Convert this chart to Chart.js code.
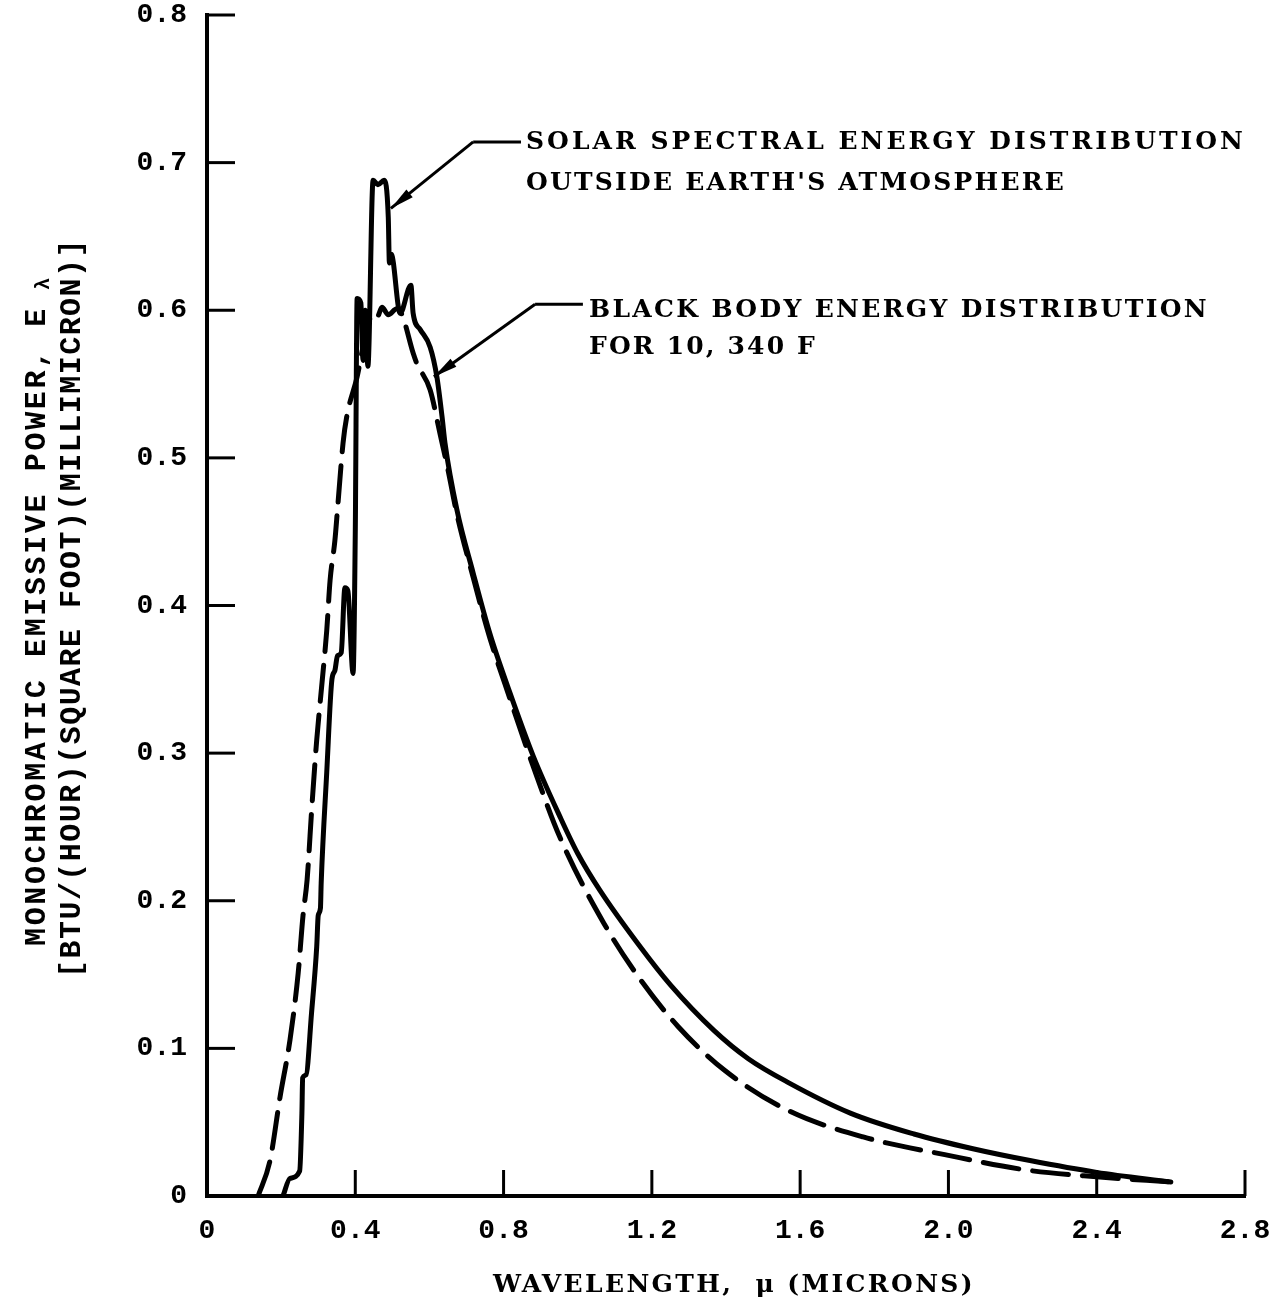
<!DOCTYPE html>
<html>
<head>
<meta charset="utf-8">
<title>Solar spectral energy distribution</title>
<script src="https://cdn.jsdelivr.net/npm/chart.js@4.4.0/dist/chart.umd.min.js"></script>
<style>
  html, body { margin: 0; padding: 0; background: #fff; }
  canvas { display: block; }
</style>
</head>
<body>
<canvas id="myChart" width="1279" height="1309"></canvas>
<script>
// solar spectrum outside the atmosphere (solid line)
const solarX = [0.205, 0.224, 0.250, 0.256, 0.258, 0.267, 0.282, 0.296, 0.300, 0.306, 0.308, 0.323, 0.337, 0.345,
  0.352, 0.362, 0.372, 0.380, 0.394, 0.400, 0.405, 0.415, 0.421, 0.427, 0.434, 0.448, 0.461, 0.478, 0.489, 0.492,
  0.497, 0.521, 0.550, 0.556, 0.575, 0.602, 0.620, 0.634, 0.642, 0.674, 0.718, 0.763, 0.817, 0.880, 0.952, 1.000,
  1.060, 1.165, 1.250, 1.368, 1.460, 1.567, 1.737, 1.907, 2.066, 2.220, 2.400, 2.600];
const solarY = [0, 0.012, 0.017, 0.056, 0.080, 0.082, 0.124, 0.169, 0.190, 0.195, 0.212, 0.287, 0.350, 0.356,
  0.366, 0.368, 0.412, 0.410, 0.354, 0.450, 0.608, 0.605, 0.566, 0.600, 0.562, 0.688, 0.685, 0.688, 0.663, 0.632,
  0.638, 0.598, 0.617, 0.598, 0.587, 0.575, 0.555, 0.528, 0.510, 0.465, 0.422, 0.381, 0.341, 0.298, 0.257, 0.232,
  0.207, 0.170, 0.143, 0.112, 0.093, 0.077, 0.056, 0.042, 0.032, 0.024, 0.016, 0.0095];

// black body at 10,340 F (dashed line)
const bodyX = [0.138, 0.170, 0.197, 0.224, 0.246, 0.259, 0.270, 0.283, 0.296, 0.310, 0.323, 0.332, 0.345, 0.352,
  0.367, 0.377, 0.405, 0.425, 0.448, 0.460, 0.472, 0.489, 0.512, 0.526, 0.556, 0.566, 0.602, 0.628, 0.650, 0.674,
  0.718, 0.763, 0.817, 0.880, 0.952, 1.070, 1.165, 1.270, 1.397, 1.567, 1.770, 1.990, 2.210, 2.400, 2.600];
const bodyY = [0, 0.024, 0.067, 0.106, 0.151, 0.190, 0.214, 0.264, 0.309, 0.347, 0.383, 0.417, 0.444, 0.465,
  0.510, 0.528, 0.555, 0.580, 0.598, 0.596, 0.602, 0.597, 0.601, 0.597, 0.571, 0.564, 0.546, 0.517, 0.492, 0.462,
  0.419, 0.378, 0.337, 0.291, 0.243, 0.185, 0.148, 0.115, 0.085, 0.058, 0.040, 0.028, 0.0176, 0.013, 0.0095];

const xTickLabels = ["0", "0.4", "0.8", "1.2", "1.6", "2.0", "2.4", "2.8"];
const yTickLabels = ["0", "0.1", "0.2", "0.3", "0.4", "0.5", "0.6", "0.7", "0.8"];

const xTitle = "WAVELENGTH,  \u03BC (MICRONS)";
const yTitleLine1 = "MONOCHROMATIC EMISSIVE POWER, E";
const yTitleSub = "\u03BB";
const yTitleLine2 = "[BTU/(HOUR)(SQUARE FOOT)(MILLIMICRON)]";

const solarNote = ["SOLAR SPECTRAL ENERGY DISTRIBUTION", "OUTSIDE EARTH'S ATMOSPHERE"];
const bodyNote = ["BLACK BODY ENERGY DISTRIBUTION", "FOR 10, 340 F"];

const serifFont = "bold 25px 'DejaVu Serif', serif";

function toPoints(xs, ys) {
  return xs.map((x, i) => ({ x: x, y: ys[i] }));
}

// draw text stretched to a given width with letter spacing
function fitText(ctx, text, x, y, width) {
  ctx.letterSpacing = "0px";
  const w = ctx.measureText(text).width;
  ctx.letterSpacing = ((width - w) / text.length) + "px";
  ctx.fillText(text, x, y);
  ctx.letterSpacing = "0px";
}

function arrow(ctx, x0, y0, x1, y1) {
  ctx.beginPath();
  ctx.moveTo(x0, y0);
  ctx.lineTo(x1, y1);
  ctx.stroke();
  const a = Math.atan2(y1 - y0, x1 - x0);
  const len = 24, half = 5;
  ctx.beginPath();
  ctx.moveTo(x1, y1);
  ctx.lineTo(x1 - len * Math.cos(a) + half * Math.sin(a), y1 - len * Math.sin(a) - half * Math.cos(a));
  ctx.lineTo(x1 - len * Math.cos(a) - half * Math.sin(a), y1 - len * Math.sin(a) + half * Math.cos(a));
  ctx.closePath();
  ctx.fill();
}

const decor = {
  id: "decor",
  afterDraw(chart) {
    const ctx = chart.ctx;
    const xs = chart.scales.x, ys = chart.scales.y;
    ctx.save();
    ctx.strokeStyle = "#000";
    ctx.fillStyle = "#000";

    // tick marks pointing into the plot
    ctx.lineWidth = 3;
    xs.ticks.forEach(t => {
      if (t.value === 0) return;
      const px = xs.getPixelForValue(t.value);
      ctx.beginPath();
      ctx.moveTo(px, ys.bottom);
      ctx.lineTo(px, ys.bottom - 26);
      ctx.stroke();
    });
    ys.ticks.forEach(t => {
      if (t.value === 0) return;
      const py = ys.getPixelForValue(t.value);
      ctx.beginPath();
      ctx.moveTo(xs.left, py);
      ctx.lineTo(xs.left + 28, py);
      ctx.stroke();
    });

    // axis titles
    ctx.textBaseline = "middle";
    ctx.textAlign = "left";
    ctx.font = serifFont;
    fitText(ctx, xTitle, 493, 1285, 482);

    ctx.font = "bold 30px 'Liberation Mono', monospace";
    ctx.save();
    ctx.translate(37, 0);
    ctx.rotate(-Math.PI / 2);
    fitText(ctx, yTitleLine1, -946, 0, 640);
    ctx.font = "bold 20px 'Liberation Mono', monospace";
    ctx.fillText(yTitleSub, -290, 7);
    ctx.restore();
    ctx.font = "bold 30px 'Liberation Mono', monospace";
    ctx.save();
    ctx.translate(72, 0);
    ctx.rotate(-Math.PI / 2);
    fitText(ctx, yTitleLine2, -978, 0, 740);
    ctx.restore();

    // annotations with leaders
    ctx.font = serifFont;
    fitText(ctx, solarNote[0], 526, 142, 720);
    fitText(ctx, solarNote[1], 526, 183, 540);
    fitText(ctx, bodyNote[0], 589, 310, 620);
    fitText(ctx, bodyNote[1], 589, 347, 228);

    ctx.lineWidth = 3;
    let ex = xs.getPixelForValue(0.718), ey = ys.getPixelForValue(0.714);
    ctx.beginPath();
    ctx.moveTo(xs.getPixelForValue(0.847), ey);
    ctx.lineTo(ex, ey);
    ctx.stroke();
    arrow(ctx, ex, ey, xs.getPixelForValue(0.496), ys.getPixelForValue(0.669));

    ex = xs.getPixelForValue(0.885); ey = ys.getPixelForValue(0.604);
    ctx.beginPath();
    ctx.moveTo(xs.getPixelForValue(1.014), ey);
    ctx.lineTo(ex, ey);
    ctx.stroke();
    arrow(ctx, ex, ey, xs.getPixelForValue(0.612), ys.getPixelForValue(0.555));

    ctx.restore();
  }
};

new Chart(document.getElementById("myChart"), {
  type: "scatter",
  data: {
    datasets: [
      {
        label: "Solar",
        data: toPoints(solarX, solarY),
        showLine: true,
        borderColor: "#000",
        borderWidth: 5,
        pointRadius: 0,
        cubicInterpolationMode: "monotone",
        borderJoinStyle: "round",
        borderCapStyle: "round",
      },
      {
        label: "Black body",
        data: toPoints(bodyX, bodyY),
        showLine: true,
        borderColor: "#000",
        borderWidth: 5,
        borderDash: [36, 14],
        pointRadius: 0,
        cubicInterpolationMode: "monotone",
        borderCapStyle: "round",
      },
    ],
  },
  options: {
    responsive: false,
    animation: false,
    events: [],
    layout: { padding: { left: 0, top: 15, right: 34, bottom: 0 } },
    plugins: { legend: { display: false }, tooltip: { enabled: false } },
    scales: {
      x: {
        type: "linear",
        min: 0,
        max: 2.8,
        afterFit: s => { s.height = 113; s.paddingLeft = 0; s.paddingRight = 0; },
        grid: { display: false, drawTicks: false },
        border: { display: true, color: "#000", width: 4 },
        ticks: {
          stepSize: 0.4,
          padding: 18,
          color: "#000",
          font: { family: "'Liberation Mono', monospace", size: 28, weight: "bold" },
          callback: (v, i) => xTickLabels[i],
        },
      },
      y: {
        min: 0,
        max: 0.8,
        afterFit: s => { s.width = 207; s.paddingTop = 0; s.paddingBottom = 0; },
        grid: { display: false, drawTicks: false },
        border: { display: true, color: "#000", width: 4 },
        ticks: {
          stepSize: 0.1,
          padding: 20,
          color: "#000",
          font: { family: "'Liberation Mono', monospace", size: 28, weight: "bold" },
          callback: (v, i) => yTickLabels[i],
        },
      },
    },
  },
  plugins: [decor],
});
</script>
</body>
</html>
